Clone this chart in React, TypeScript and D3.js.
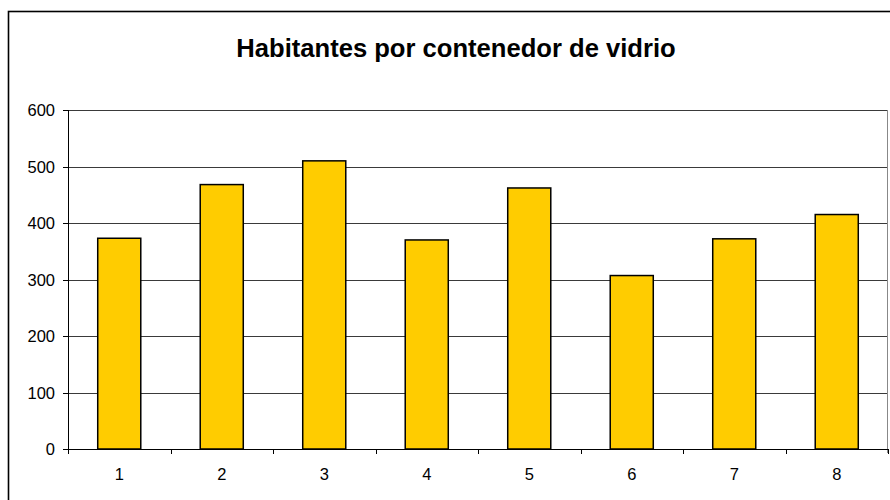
import React from "react";
import * as d3 from "d3";

const categories = ["1", "2", "3", "4", "5", "6", "7", "8"];
const values = [373, 468, 510, 370, 462, 307, 372, 415];
const yTicks = [0, 100, 200, 300, 400, 500, 600];
const title = "Habitantes por contenedor de vidrio";

export default function App() {
  const W = 890, H = 500;
  const left = 68, right = 888, top = 110, bottom = 449;
  const x = d3.scaleBand<string>().domain(categories).range([left, right]).paddingInner(0.58).paddingOuter(0.29);
  const y = d3.scaleLinear().domain([0, 600]).range([bottom, top]);
  const step = x.step();
  const font = "'Liberation Sans', Arial, sans-serif";
  return (
    <svg width={W} height={H} style={{ position: "absolute", left: 0, top: 0, background: "#fff" }} fontFamily={font}>
      <rect x={0} y={0} width={W} height={H} fill="#fff" />
      <rect x={8.5} y={11.5} width={W + 10} height={H + 10} fill="none" stroke="#000" strokeWidth={1.6} />
      <text x={456} y={57} textAnchor="middle" fontSize={25.6} fontWeight="bold" fill="#000">{title}</text>
      {yTicks.filter(t => t > 0).map(t => (
        <line key={"g" + t} x1={left} x2={right} y1={Math.round(y(t)) + 0.5} y2={Math.round(y(t)) + 0.5} stroke="#3a3a3a" strokeWidth={1.2} />
      ))}
      <line x1={right - 0.5} x2={right - 0.5} y1={top} y2={bottom + 4} stroke="#888" strokeWidth={1} />
      {categories.map((c, i) => (
        <rect key={c} x={x(c)!} y={y(values[i])} width={x.bandwidth()} height={bottom - y(values[i])} fill="#FFCC00" stroke="#000" strokeWidth={1.5} />
      ))}
      <line x1={left + 0.5} x2={left + 0.5} y1={top} y2={bottom + 4} stroke="#000" strokeWidth={1} />
      <line x1={left} x2={right} y1={bottom + 0.5} y2={bottom + 0.5} stroke="#000" strokeWidth={1} />
      {yTicks.map(t => (
        <g key={"y" + t}>
          <line x1={left - 5} x2={left} y1={Math.round(y(t)) + 0.5} y2={Math.round(y(t)) + 0.5} stroke="#000" strokeWidth={1} />
          <text x={55} y={y(t)} textAnchor="end" dominantBaseline="central" fontSize={16.5} fill="#000">{t}</text>
        </g>
      ))}
      {d3.range(categories.length + 1).map(i => (
        <line key={"xt" + i} x1={Math.round(left + i * step) + 0.5} x2={Math.round(left + i * step) + 0.5} y1={bottom} y2={bottom + 5} stroke="#000" strokeWidth={1} />
      ))}
      {categories.map(c => (
        <text key={"xl" + c} x={x(c)! + x.bandwidth() / 2} y={480} textAnchor="middle" fontSize={16.5} fill="#000">{c}</text>
      ))}
    </svg>
  );
}
